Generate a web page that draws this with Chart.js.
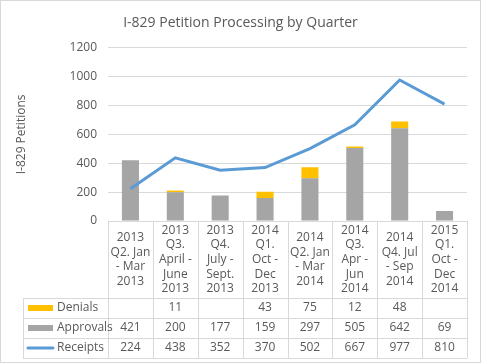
<!DOCTYPE html>
<html>
<head>
<meta charset="utf-8">
<script src="https://cdn.jsdelivr.net/npm/chart.js@4"></script>
<style>
    html, body { margin: 0; padding: 0; background: #fff; }
    #wrap { width: 481px; height: 363px; position: relative; }
</style>
</head>
<body>
<div id="wrap"><canvas id="chart-1" width="481" height="363"></canvas></div>
<script>
// Datos del grafico
const quarters = [
    ['2013', 'Q2. Jan', '- Mar', '2013'],
    ['2013', 'Q3.', 'April -', 'June', '2013'],
    ['2013', 'Q4.', 'July -', 'Sept.', '2013'],
    ['2014', 'Q1.', 'Oct -', 'Dec', '2013'],
    ['2014', 'Q2. Jan', '- Mar', '2014'],
    ['2014', 'Q3.', 'Apr -', 'Jun', '2014'],
    ['2014', 'Q4. Jul', '- Sep', '2014'],
    ['2015', 'Q1.', 'Oct -', 'Dec', '2014'],
];
const denials = [null, 11, null, 43, 75, 12, 48, null];
const approvals = [421, 200, 177, 159, 297, 505, 642, 69];
const receipts = [224, 438, 352, 370, 502, 667, 977, 810];
const yTicks = [0, 200, 400, 600, 800, 1000, 1200];

const textColor = '#595959';
const gridColor = '#D9D9D9';
const fontFamily = "'Open Sans', 'Noto Sans', sans-serif";

// Tabla de datos debajo del grafico
const dataTable = {
    id: 'dataTable',
    afterDraw(chart) {
        const ctx = chart.ctx;
        const area = chart.chartArea;
        const x = chart.scales.x;
        const n = quarters.length;
        const step = (area.right - area.left) / n;
        const tableLeft = 23;
        const headBottom = area.bottom + 77;
        const rowH = 20;
        const rows = [
            { label: 'Denials', data: denials, color: '#FFC000', type: 'bar' },
            { label: 'Approvals', data: approvals, color: '#A5A5A5', type: 'bar' },
            { label: 'Receipts', data: receipts, color: '#5B9BD5', type: 'line' },
        ];

        ctx.save();
        ctx.strokeStyle = gridColor;
        ctx.lineWidth = 1;
        // lineas horizontales
        ctx.beginPath();
        ctx.moveTo(area.left, Math.round(area.bottom) + 0.5);
        ctx.lineTo(area.right, Math.round(area.bottom) + 0.5);
        for (let r = 0; r <= rows.length; r++) {
            const yy = Math.round(headBottom + r * rowH) + 0.5;
            ctx.moveTo(tableLeft, yy);
            ctx.lineTo(area.right, yy);
        }
        // lineas verticales
        for (let i = 0; i <= n; i++) {
            const xx = Math.round(area.left + i * step) + 0.5;
            ctx.moveTo(xx, area.bottom);
            ctx.lineTo(xx, headBottom + rows.length * rowH);
        }
        ctx.moveTo(tableLeft + 0.5, headBottom);
        ctx.lineTo(tableLeft + 0.5, headBottom + rows.length * rowH);
        ctx.stroke();

        // etiquetas de categorias
        ctx.fillStyle = textColor;
        ctx.font = '12px ' + fontFamily;
        ctx.textAlign = 'center';
        ctx.textBaseline = 'middle';
        const lh = 14.7;
        const midHead = area.bottom + 77 / 2;
        quarters.forEach((lines, i) => {
            const cx = x.getPixelForValue(i);
            const start = midHead - (lines.length - 1) * lh / 2;
            lines.forEach((t, j) => ctx.fillText(t, cx, start + j * lh));
        });

        // filas de datos
        rows.forEach((row, r) => {
            const cy = headBottom + r * rowH + rowH / 2;
            row.data.forEach((v, i) => {
                if (v !== null) ctx.fillText(String(v), x.getPixelForValue(i), cy);
            });
            // leyenda
            if (row.type === 'bar') {
                ctx.fillStyle = row.color;
                ctx.fillRect(28, cy - 3, 25, 6);
            } else {
                ctx.strokeStyle = row.color;
                ctx.lineWidth = 3;
                ctx.lineCap = 'round';
                ctx.beginPath();
                ctx.moveTo(28, cy);
                ctx.lineTo(53, cy);
                ctx.stroke();
            }
            ctx.fillStyle = textColor;
            ctx.textAlign = 'left';
            ctx.fillText(row.label, 57, cy);
            ctx.textAlign = 'center';
        });

        // borde exterior
        ctx.strokeStyle = gridColor;
        ctx.lineWidth = 1;
        ctx.strokeRect(0.5, 0.5, chart.width - 1, chart.height - 1);
        ctx.restore();
    }
};

const ctx = document.getElementById('chart-1').getContext('2d');
const chart = new Chart(ctx, {
    type: 'bar',
    data: {
        labels: quarters,
        datasets: [
            {
                type: 'line',
                label: 'Receipts',
                data: receipts,
                borderColor: '#5B9BD5',
                borderWidth: 3,
                pointRadius: 0,
                tension: 0,
                order: 0,
            },
            {
                label: 'Approvals',
                data: approvals,
                backgroundColor: '#A5A5A5',
                stack: 's',
                order: 1,
            },
            {
                label: 'Denials',
                data: denials,
                backgroundColor: '#FFC000',
                stack: 's',
                order: 1,
            },
        ]
    },
    options: {
        responsive: false,
        animation: false,
        layout: { padding: { left: 14, right: 14, top: 0, bottom: 142 } },
        datasets: { bar: { barPercentage: 0.38, categoryPercentage: 1 } },
        plugins: {
            legend: { display: false },
            tooltip: { enabled: false },
            title: {
                display: true,
                text: 'I-829 Petition Processing by Quarter',
                color: textColor,
                font: { family: fontFamily, size: 14, weight: 'normal' },
                padding: { top: 15, bottom: 16 },
            }
        },
        scales: {
            x: {
                display: false,
                stacked: true,
            },
            y: {
                stacked: true,
                min: 0,
                max: 1200,
                afterFit: (scale) => { scale.width = 94; },
                afterBuildTicks: (scale) => { scale.ticks = yTicks.map((v) => ({ value: v })); },
                grid: { color: gridColor, drawTicks: false },
                border: { display: false },
                ticks: {
                    color: textColor,
                    padding: 11,
                    font: { family: fontFamily, size: 12 },
                    callback: (v) => String(v),
                },
                title: {
                    display: true,
                    text: 'I-829 Petitions',
                    color: textColor,
                    font: { family: fontFamily, size: 12 },
                    padding: { top: 0, bottom: 0 },
                }
            }
        }
    },
    plugins: [dataTable]
});
</script>
</body>
</html>
